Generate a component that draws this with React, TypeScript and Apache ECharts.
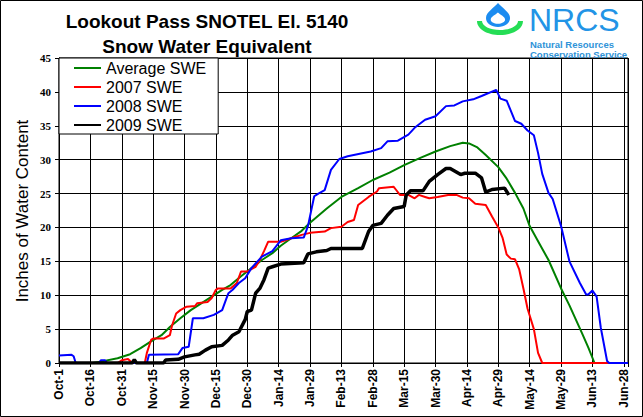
import React, { useEffect, useRef } from "react";
import * as echarts from "echarts";

// x = days since Oct-1, labels every 15 days
const xTickLabels = [
  "Oct-1", "Oct-16", "Oct-31", "Nov-15", "Nov-30", "Dec-15", "Dec-30", "Jan-14", "Jan-29",
  "Feb-13", "Feb-28", "Mar-15", "Mar-30", "Apr-14", "Apr-29", "May-14", "May-29", "Jun-13", "Jun-28",
];

const seriesNames = ["Average SWE", "2007 SWE", "2008 SWE", "2009 SWE"];

const averageSwe: [number, number][] = [
  [0, 0], [16, 0], [20, 0.2], [28, 0.7], [34, 1.3], [39, 2.2], [44, 3.2], [49, 4.1], [53, 5.3],
  [58, 6.6], [63, 7.8], [68, 8.8], [73, 9.8], [78, 10.8], [82, 11.5], [87, 12.8], [92, 14.0],
  [97, 15.2], [102, 16.2], [106, 17.3], [111, 18.4], [116, 19.5], [120, 20.7], [128, 22.8],
  [135, 24.5], [143, 25.8], [150, 27.0], [158, 28.1], [165, 29.2], [173, 30.3], [180, 31.2],
  [187, 32.0], [193, 32.5], [196, 32.4], [200, 31.8], [204, 30.7], [210, 28.9], [214, 27.2],
  [218, 25.1], [222, 22.8], [225, 20.2], [230, 17.4], [234, 15.2], [240, 11.0], [244, 8.5],
  [250, 4.4], [253, 2.3], [256, 0],
];

const swe2007: [number, number][] = [
  [0, 0], [28, 0], [30, 0.4], [33, 0.6], [35, 0], [41, 0], [42, 1.5], [44, 3.4], [45, 3.6],
  [50, 3.6], [53, 4.1], [54, 5.5], [56, 7.3], [58, 7.8], [61, 8.3], [65, 8.4], [66, 8.8],
  [71, 9.0], [73, 9.6], [75, 10.8], [76, 11.0], [82, 11.0], [85, 11.8], [87, 13.5], [90, 13.5],
  [94, 14.2], [96, 15.2], [98, 16.5], [100, 17.9], [106, 17.9], [111, 18.4], [116, 18.9],
  [120, 19.2], [127, 19.4], [130, 19.9], [135, 20.1], [138, 20.8], [141, 21.1], [143, 23.3],
  [148, 24.5], [152, 25.3], [153, 25.8], [160, 26.0], [161, 25.6], [163, 24.8], [167, 24.8],
  [170, 24.3], [172, 24.8], [175, 24.5], [177, 24.3], [181, 24.5], [186, 24.8], [190, 24.8],
  [193, 24.4], [196, 24.3], [199, 23.5], [204, 23.3], [207, 21.6], [210, 20.0], [212, 18.5],
  [214, 16.0], [216, 15.4], [218, 15.3], [220, 13.8], [222, 11.0], [224, 8.0], [225, 7.0],
  [227, 5.0], [229, 1.5], [231, 0], [272, 0],
];

const swe2008: [number, number][] = [
  [0, 1.1], [6, 1.2], [7, 1.0], [8, 0], [19, 0], [20, 0.4], [22, 0.4], [23, 0], [42, 0],
  [43, 1.2], [57, 1.3], [59, 2.2], [62, 2.4], [63, 4.5], [64, 6.6], [69, 6.6], [74, 7.1],
  [78, 7.8], [80, 9.5], [81, 10.3], [83, 10.8], [86, 11.8], [89, 12.5], [92, 14.0], [97, 15.7],
  [102, 16.5], [106, 18.1], [111, 18.4], [117, 18.5], [119, 20.2], [122, 24.6], [124, 25.0],
  [127, 25.5], [130, 28.5], [134, 30.1], [138, 30.5], [149, 31.2], [154, 31.7], [157, 32.7],
  [162, 32.8], [167, 33.7], [170, 34.7], [175, 35.9], [180, 36.4], [185, 37.9], [189, 38.0],
  [193, 38.6], [198, 38.9], [202, 39.4], [209, 40.3], [211, 39.0], [214, 38.7], [218, 35.7],
  [221, 35.3], [224, 34.3], [227, 33.6], [229, 31.0], [231, 27.9], [234, 25.1], [236, 24.2],
  [240, 20.2], [244, 15.0], [249, 11.8], [252, 10.1], [253, 10.1], [255, 10.7], [257, 9.8],
  [259, 5.2], [262, 0.3], [263, 0], [272, 0],
];

const swe2009: [number, number][] = [
  [0, 0], [35, 0], [36, 0.5], [37, 0], [50, 0], [51, 0.45], [57, 0.55], [60, 0.9], [65, 1.2],
  [67, 1.3], [70, 1.9], [73, 2.4], [78, 2.6], [81, 3.4], [83, 4.1], [86, 4.6], [89, 6.4],
  [90, 7.6], [92, 7.8], [94, 10.3], [96, 11.0], [98, 12.3], [100, 14.0], [102, 14.2],
  [106, 14.6], [117, 14.8], [119, 16.1], [123, 16.4], [128, 16.6], [130, 16.9], [145, 16.9],
  [148, 19.4], [150, 20.3], [154, 20.6], [157, 21.8], [160, 22.8], [165, 23.1], [166, 24.8],
  [168, 25.4], [174, 25.4], [177, 26.8], [181, 27.8], [185, 28.7], [187, 28.7], [192, 27.8],
  [194, 28.0], [199, 28.0], [202, 27.3], [204, 25.2], [207, 25.6], [213, 25.8], [215, 24.8],
];

const seriesData = [averageSwe, swe2007, swe2008, swe2009];
const seriesColors = ["#008000", "#ff0000", "#0000ff", "#000000"];
const seriesWidths = [2, 2, 2, 3.5];

const DROP_D =
  "M12 0 C8 5 0 9 0 15 C0 20.5 5.5 24 12 24 C18.5 24 24 20.5 24 15 C24 9 16 5 12 0 Z";
const CRESCENT_D =
  "M0 0 C0 8 10 14 23 14 C36 14 46 8 46 0 L41 0 C41 5 33 9 23 9 C13 9 5 5 5 0 Z";

let registered = false;
function registerShapes() {
  if (registered) return;
  registered = true;
  echarts.graphic.registerShape("nrcsDrop", echarts.graphic.extendPath(DROP_D, {}) as any);
  echarts.graphic.registerShape("nrcsCrescent", echarts.graphic.extendPath(CRESCENT_D, {}) as any);
}

export default function App() {
  const ref = useRef<HTMLDivElement>(null);

  useEffect(() => {
    if (!ref.current) return;
    registerShapes();
    const chart = echarts.init(ref.current, undefined, { renderer: "svg" });
    const sans = "'Liberation Sans', Arial, sans-serif";
    const serif = "'Liberation Serif', 'Times New Roman', serif";

    chart.setOption({
      animation: false,
      backgroundColor: "#fff",
      grid: {
        left: 59,
        top: 58,
        width: 569,
        height: 305,
        show: true,
        borderColor: "#000",
        borderWidth: 1,
        backgroundColor: "#fff",
        containLabel: false,
      },
      xAxis: {
        type: "value",
        min: 0,
        max: 272,
        interval: 15,
        axisLine: { show: true, lineStyle: { color: "#000", width: 1 } },
        axisTick: { show: true, length: 4, lineStyle: { color: "#000" } },
        splitLine: { show: true, lineStyle: { color: "#000", width: 1 } },
        axisLabel: {
          rotate: 90,
          margin: 6,
          color: "#000",
          fontFamily: sans,
          fontWeight: "bold",
          fontSize: 12,
          showMaxLabel: true,
          formatter: (v: number) => (v % 15 === 0 ? xTickLabels[v / 15] ?? "" : ""),
        },
      },
      yAxis: {
        type: "value",
        min: 0,
        max: 45,
        interval: 5,
        axisLine: { show: true, lineStyle: { color: "#000", width: 1 } },
        axisTick: { show: true, length: 4, lineStyle: { color: "#000" } },
        splitLine: { show: true, lineStyle: { color: "#000", width: 1 } },
        axisLabel: {
          margin: 8,
          color: "#000",
          fontFamily: serif,
          fontWeight: "bold",
          fontSize: 11,
        },
      },
      legend: {
        left: 59,
        top: 58,
        orient: "vertical",
        backgroundColor: "#fff",
        borderColor: "#000",
        borderWidth: 1,
        borderRadius: 0,
        padding: [2, 12, 1, 14],
        itemWidth: 27,
        itemHeight: 14,
        itemGap: 3,
        itemStyle: { opacity: 0 },
        selectedMode: false,
        textStyle: { fontFamily: sans, fontSize: 16, color: "#000" },
        data: seriesNames,
      },
      series: seriesNames.map((name, i) => ({
        name,
        type: "line",
        data: seriesData[i],
        showSymbol: false,
        symbol: "none",
        color: seriesColors[i],
        lineStyle: { color: seriesColors[i], width: seriesWidths[i] },
        z: 2 + i,
      })),
      graphic: [
        {
          type: "rect",
          shape: { x: 0.5, y: 0.5, width: 642, height: 416 },
          style: { fill: "none", stroke: "#000", lineWidth: 1 },
          silent: true,
          z: 100,
        },
        {
          type: "text",
          x: 207,
          y: 21,
          style: {
            text: "Lookout Pass SNOTEL El. 5140",
            font: `bold 19px ${sans}`,
            fill: "#000",
            textAlign: "center",
            textVerticalAlign: "middle",
          },
        },
        {
          type: "text",
          x: 207,
          y: 46,
          style: {
            text: "Snow Water Equivalent",
            font: `bold 19px ${sans}`,
            fill: "#000",
            textAlign: "center",
            textVerticalAlign: "middle",
          },
        },
        {
          type: "text",
          x: 22,
          y: 211,
          rotation: Math.PI / 2,
          style: {
            text: "Inches of Water Content",
            font: `17px ${sans}`,
            fill: "#000",
            textAlign: "center",
            textVerticalAlign: "middle",
          },
        },
        {
          type: "nrcsDrop",
          x: 486,
          y: 3,
          style: { fill: "#1c8cf0" },
        },
        {
          type: "nrcsDrop",
          x: 490.7,
          y: 12.5,
          scaleX: 0.6,
          scaleY: 0.47,
          style: { fill: "#fff" },
        },
        {
          type: "nrcsCrescent",
          x: 477,
          y: 21,
          style: { fill: "#25dd55" },
        },
        {
          type: "text",
          x: 529,
          y: 19.5,
          style: {
            text: "NRCS",
            font: `32px ${sans}`,
            fill: "#2294e6",
            stroke: "#fff",
            lineWidth: 1.2,
            textAlign: "left",
            textVerticalAlign: "middle",
          },
        },
        {
          type: "text",
          x: 530,
          y: 44.5,
          style: {
            text: "Natural Resources",
            font: `bold 9.5px ${sans}`,
            fill: "#2f93d8",
            textAlign: "left",
            textVerticalAlign: "middle",
          },
        },
        {
          type: "text",
          x: 530,
          y: 54,
          style: {
            text: "Conservation Service",
            font: `bold 9.5px ${sans}`,
            fill: "#2f93d8",
            textAlign: "left",
            textVerticalAlign: "middle",
          },
        },
      ],
    });

    return () => chart.dispose();
  }, []);

  return (
    <div
      ref={ref}
      style={{ position: "fixed", left: 0, top: 0, width: 643, height: 417, background: "#fff" }}
    />
  );
}
